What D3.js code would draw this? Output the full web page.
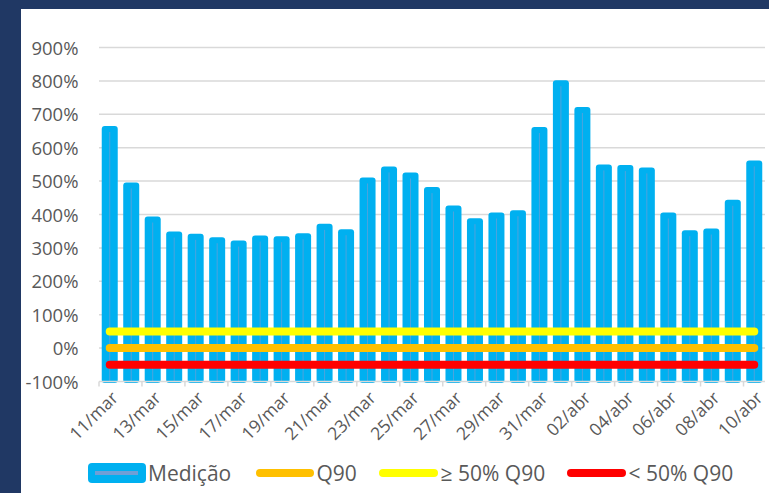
<!DOCTYPE html>
<html><head><meta charset="utf-8">
<script src="https://cdn.jsdelivr.net/npm/d3@7"></script>
<style>
html,body{margin:0;padding:0;background:#203864;}
svg{display:block;}
</style></head>
<body>
<svg id="chart" width="769" height="493"></svg>
<script>
const categories = ["11/mar","12/mar","13/mar","14/mar","15/mar","16/mar","17/mar","18/mar","19/mar","20/mar","21/mar","22/mar","23/mar","24/mar","25/mar","26/mar","27/mar","28/mar","29/mar","30/mar","31/mar","01/abr","02/abr","03/abr","04/abr","05/abr","06/abr","07/abr","08/abr","09/abr","10/abr"];
const medicao = [665,496,394,349,342,332,322,337,335,344,372,356,511,544,526,482,427,389,406,413,662,802,722,550,548,541,406,353,358,444,562];
const q90 = 0;
const acima50 = 50;
const abaixo50 = -50;
const yTicks = [-100,0,100,200,300,400,500,600,700,800,900];
const legendLabels = ["Medição","Q90","≥ 50% Q90","< 50% Q90"];

const svg = d3.select("#chart");
svg.append("rect").attr("x",21).attr("y",9).attr("width",748).attr("height",484).attr("fill","#ffffff");

const x0 = 99, x1 = 765;
const x = d3.scaleBand().domain(categories).range([x0,x1]).paddingInner(0).paddingOuter(0);
const y = d3.scaleLinear().domain([-100,900]).range([381.5,47.5]);
const font = "'Open Sans', sans-serif";
const txt = "#595959";

// gridlines
svg.append("g").selectAll("line").data(yTicks.filter(d=>d>-100)).join("line")
  .attr("x1",x0).attr("x2",x1).attr("y1",d=>y(d)).attr("y2",d=>y(d))
  .attr("stroke","#d9d9d9").attr("stroke-width",1.5);

// y labels
const yAxis = d3.axisLeft(y).tickValues(yTicks).tickFormat(d=>d+"%").tickSize(0).tickPadding(0);
const gy = svg.append("g").attr("transform",`translate(78.5,0)`).call(yAxis);
gy.select(".domain").remove();
gy.selectAll("text").attr("font-family",font).attr("font-size",18.5).attr("fill",txt).attr("dy","0.36em");

// bars
const bw = 16;
const bars = svg.append("g");
bars.selectAll("rect").data(medicao).join("rect")
  .attr("x",(d,i)=>x(categories[i])+x.bandwidth()/2-bw/2)
  .attr("y",d=>y(d))
  .attr("width",bw)
  .attr("height",d=>y(-100)-y(d)+1.5)
  .attr("rx",3).attr("fill","#00b0f0");
bars.selectAll("line").data(medicao).join("line")
  .attr("x1",(d,i)=>x(categories[i])+x.bandwidth()/2)
  .attr("x2",(d,i)=>x(categories[i])+x.bandwidth()/2)
  .attr("y1",d=>y(d)+6).attr("y2",y(-100))
  .attr("stroke","#6f9fd6").attr("stroke-width",1).attr("opacity",0.7);

// x axis line + ticks
const gx = svg.append("g").attr("transform",`translate(0,${y(-100)})`);
gx.append("line").attr("x1",x0).attr("x2",x1).attr("y1",0).attr("y2",0).attr("stroke","#d9d9d9").attr("stroke-width",1.5);
const tickPos = d3.range(0,categories.length+1,2).map(i=>x0+i*x.bandwidth());
gx.selectAll("line.t").data(tickPos).join("line").attr("class","t")
  .attr("x1",d=>d).attr("x2",d=>d).attr("y1",0).attr("y2",5)
  .attr("stroke","#d9d9d9").attr("stroke-width",1.5);

// x labels
svg.append("g").selectAll("text").data(categories.filter((d,i)=>i%2===0)).join("text")
  .attr("transform",d=>`translate(${x(d)+x.bandwidth()/2+5},${y(-100)+13}) rotate(-45)`)
  .attr("text-anchor","end").attr("dy","0.36em")
  .attr("font-family",font).attr("font-size",17.5).attr("fill",txt)
  .text(d=>d);

// reference lines
const refs = [{v:acima50,c:"#ffff00"},{v:q90,c:"#ffc000"},{v:abaixo50,c:"#ff0000"}];
const line = d3.line().x(d=>d[0]).y(d=>d[1]);
svg.append("g").selectAll("path").data(refs).join("path")
  .attr("d",r=>line(categories.map(c=>[x(c)+x.bandwidth()/2,y(r.v)])))
  .attr("fill","none").attr("stroke",r=>r.c).attr("stroke-width",8).attr("stroke-linecap","round");

// legend
const lg = svg.append("g");
const ly = 473;
lg.append("rect").attr("x",88).attr("y",463).attr("width",58).attr("height",20).attr("rx",4).attr("fill","#00b0f0");
lg.append("line").attr("x1",95).attr("x2",138).attr("y1",ly).attr("y2",ly).attr("stroke","#6f9fd6").attr("stroke-width",4);
const legItems = [
  {x1:260,x2:310,c:"#ffc000",tx:316.5,t:legendLabels[1]},
  {x1:383,x2:434,c:"#ffff00",tx:440.5,t:legendLabels[2]},
  {x1:571,x2:622,c:"#ff0000",tx:628.5,t:legendLabels[3]}
];
lg.selectAll("line.l").data(legItems).join("line").attr("class","l")
  .attr("x1",d=>d.x1).attr("x2",d=>d.x2).attr("y1",ly).attr("y2",ly)
  .attr("stroke",d=>d.c).attr("stroke-width",8).attr("stroke-linecap","round");
lg.selectAll("text").data([{tx:148,t:legendLabels[0]}].concat(legItems)).join("text")
  .attr("x",d=>d.tx).attr("y",480.5).attr("font-family",font).attr("font-size",21).attr("fill",txt)
  .text(d=>d.t);
</script>
</body></html>
